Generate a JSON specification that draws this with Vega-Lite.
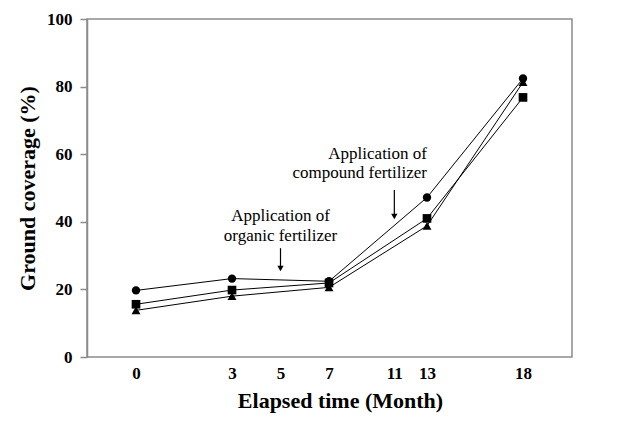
{
  "$schema": "https://vega.github.io/schema/vega-lite/v6.json",
  "width": 485,
  "height": 338,
  "autosize": {"type": "none"},
  "padding": {"left": 87, "top": 19, "right": 52, "bottom": 65},
  "background": "white",
  "config": {
    "view": {"stroke": "#8c8c8c", "strokeWidth": 1.5},
    "font": "Liberation Serif"
  },
  "datasets": {
    "cov": [
      {"month": 0, "coverage": 19.7, "series": "S1"},
      {"month": 3, "coverage": 23.2, "series": "S1"},
      {"month": 7, "coverage": 22.4, "series": "S1"},
      {"month": 13, "coverage": 47.2, "series": "S1"},
      {"month": 18, "coverage": 82.4, "series": "S1"},
      {"month": 0, "coverage": 15.6, "series": "S2"},
      {"month": 3, "coverage": 19.8, "series": "S2"},
      {"month": 7, "coverage": 21.9, "series": "S2"},
      {"month": 13, "coverage": 41.0, "series": "S2"},
      {"month": 18, "coverage": 76.8, "series": "S2"},
      {"month": 0, "coverage": 13.8, "series": "S3"},
      {"month": 3, "coverage": 18.0, "series": "S3"},
      {"month": 7, "coverage": 20.6, "series": "S3"},
      {"month": 13, "coverage": 38.8, "series": "S3"},
      {"month": 18, "coverage": 81.3, "series": "S3"}
    ],
    "organic": [
      {"month": 5, "coverage": 41.8, "label": "Application of"},
      {"month": 5, "coverage": 35.9, "label": "organic fertilizer"}
    ],
    "compound": [
      {"month": 13, "coverage": 60.2, "label": "Application of"},
      {"month": 13, "coverage": 54.4, "label": "compound fertilizer"}
    ],
    "arrows": [
      {"month": 5, "top": 32.2, "tip": 26.2},
      {"month": 11, "top": 49.4, "tip": 41.6}
    ]
  },
  "encoding": {
    "x": {
      "field": "month",
      "type": "quantitative",
      "scale": {"type": "linear", "domain": [0, 3, 7, 13, 18], "range": [49, 145, 242, 340, 436], "nice": false, "zero": false},
      "axis": {
        "values": [0, 3, 5, 7, 11, 13, 18],
        "title": "Elapsed time (Month)",
        "grid": false,
        "ticks": false,
        "domain": false,
        "labelFont": "Liberation Serif",
        "labelFontWeight": "bold",
        "labelFontSize": 17,
        "labelColor": "black",
        "labelPadding": 8,
        "labelFlush": false,
        "titleFont": "Liberation Serif",
        "titleFontWeight": "bold",
        "titleFontSize": 22,
        "titleColor": "black",
        "titleX": 253,
        "titleY": 43,
        "titleBaseline": "middle"
      }
    },
    "y": {
      "field": "coverage",
      "type": "quantitative",
      "scale": {"domain": [0, 100], "nice": false},
      "axis": {
        "values": [0, 20, 40, 60, 80, 100],
        "title": "Ground coverage (%)",
        "grid": false,
        "tickSize": 7,
        "tickColor": "#8c8c8c",
        "tickWidth": 1.5,
        "domainColor": "#8c8c8c",
        "domainWidth": 1.5,
        "labelFont": "Liberation Serif",
        "labelFontWeight": "bold",
        "labelFontSize": 17,
        "labelColor": "black",
        "labelPadding": 8,
        "labelFlush": false,
        "titleFont": "Liberation Serif",
        "titleFontWeight": "bold",
        "titleFontSize": 22,
        "titleColor": "black",
        "titleAngle": -90,
        "titleX": -60,
        "titleY": 169,
        "titleAlign": "center",
        "titleBaseline": "middle"
      }
    }
  },
  "layer": [
    {
      "data": {"name": "cov"},
      "mark": {"type": "line", "color": "black", "strokeWidth": 1},
      "encoding": {"detail": {"field": "series"}}
    },
    {
      "data": {"name": "cov"},
      "mark": {"type": "point", "filled": true, "opacity": 1, "color": "black"},
      "encoding": {
        "shape": {"field": "series", "type": "nominal", "scale": {"domain": ["S1", "S2", "S3"], "range": ["circle", "square", "triangle-up"]}, "legend": null},
        "size": {"field": "series", "type": "nominal", "scale": {"domain": ["S1", "S2", "S3"], "range": [70, 80, 75]}, "legend": null}
      }
    },
    {
      "data": {"name": "organic"},
      "mark": {"type": "text", "font": "Liberation Serif", "fontSize": 17, "color": "black", "align": "center", "baseline": "middle"},
      "encoding": {"text": {"field": "label"}}
    },
    {
      "data": {"name": "compound"},
      "mark": {"type": "text", "font": "Liberation Serif", "fontSize": 17, "color": "black", "align": "right", "baseline": "middle"},
      "encoding": {"text": {"field": "label"}}
    },
    {
      "data": {"name": "arrows"},
      "mark": {"type": "rule", "color": "black", "strokeWidth": 1.2},
      "encoding": {
        "y": {"field": "top", "type": "quantitative"},
        "y2": {"field": "tip"}
      }
    },
    {
      "data": {"name": "arrows"},
      "mark": {"type": "point", "shape": "triangle-down", "filled": true, "opacity": 1, "color": "black", "size": 40},
      "encoding": {
        "y": {"field": "tip", "type": "quantitative"}
      }
    }
  ]
}
